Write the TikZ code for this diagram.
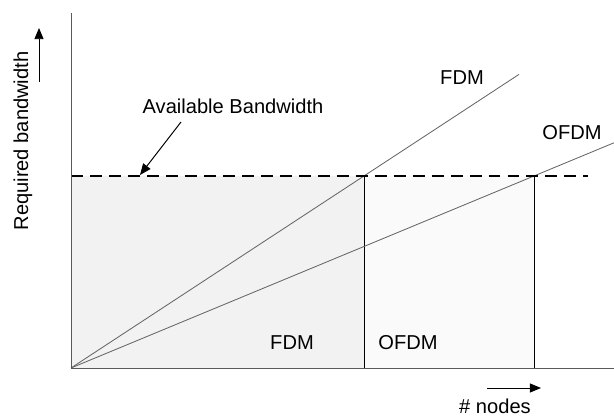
\documentclass[tikz,border=0pt]{standalone}
\usepackage{fontspec}
\setmainfont{Liberation Sans}
\usetikzlibrary{arrows.meta}

\def\unit{2.5mm}

\begin{document}
\begin{tikzpicture}[x=\unit, y=\unit, every node/.style={font=\fontsize{14.3}{17}\selectfont},
    axis/.style={draw=black!65, line width=0.7pt},
    rate/.style={draw=black!60, line width=0.6pt},
    avail/.style={line width=1.5pt, dash pattern=on 8.5pt off 5pt},
    marker/.style={-{Triangle[length=8pt,width=6.5pt]}, line width=0.7pt}]
      \useasboundingbox (-7.1,-4.9) rectangle (54.3,36.8);
      % shaded capacity regions
      \fill[black!5] (0,0) rectangle (29.3,19.2);
      \fill[black!2] (29.3,0) rectangle (46.3,19.2);
      \coordinate (o) at (0,0);
      \coordinate (ytop) at (0,35.5);
      \coordinate (xend) at (54.3,0);
      \coordinate (fdmcut) at (29.3,19.2);
      \coordinate (ofdmcut) at (46.3,19.2);
      \coordinate (fdmend) at (44.8,29.36);
      \coordinate (ofdmend) at (54.3,22.52);
      \coordinate (bwend) at (51.7,19.2);
      \draw[black, line width=0.6pt] (fdmcut) -- (fdmcut |- o);
      \draw[black, line width=0.6pt] (ofdmcut) -- (ofdmcut |- o);
      \draw[rate] (o) -- (fdmend);
      \draw[rate] (o) -- (ofdmend);
      \draw[avail] (o |- bwend) -- (bwend);
      \draw[axis] (ytop) -- (o) -- (xend);
      % labels
      \node[anchor=center] (fdmtop) at (39.1,29.0) {FDM};
      \node[anchor=center] (ofdmtop) at (50.1,23.5) {OFDM};
      \node[anchor=center] (fdmbot) at (22.1,2.5) {FDM};
      \node[anchor=center] (ofdmbot) at (33.7,2.5) {OFDM};
      \node[anchor=center] (bwlabel) at (16.2,26.2) {Available Bandwidth};
      \coordinate (bwtail) at (11.0,24.6);
      \coordinate (bwhead) at (6.9,19.3);
      \draw[marker] (bwtail) -- (bwhead);
      \node[anchor=base, inner sep=0pt] (xlabel) at (42.4,-4.6) {\# nodes};
      \coordinate (xtail) at (41.6,-2.0);
      \coordinate (xhead) at (47.0,-2.0);
      \draw[marker] (xtail) -- (xhead);
      \node[anchor=center, rotate=90] (ylabel) at (-4.8,22.7) {Required bandwidth};
      \coordinate (ytail) at (-3.2,28.6);
      \coordinate (yhead) at (-3.2,34.0);
      \draw[marker] (ytail) -- (yhead);
\end{tikzpicture}
\end{document}
